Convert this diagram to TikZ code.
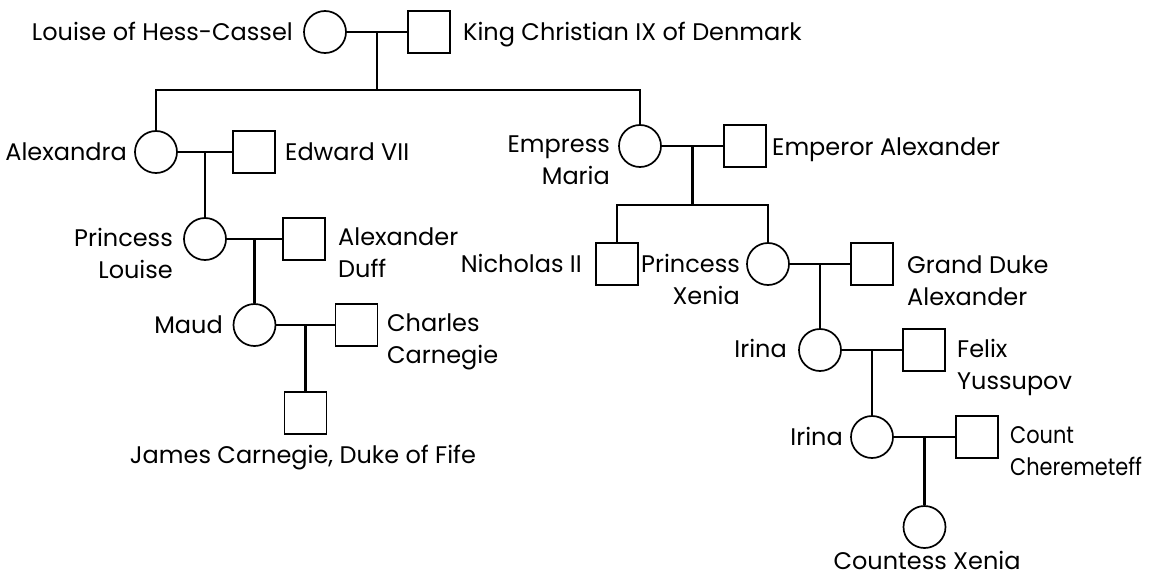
\documentclass[tikz,border=0pt]{standalone}
\usepackage{fontspec}
\setmainfont{Poppins}
\newfontfamily\narrowfont{Poppins}[FakeStretch=0.87]
\usetikzlibrary{calc}
\tikzset{
  fem/.style={circle, draw, minimum size=42pt, inner sep=0pt, line width=1.7pt},
  mal/.style={rectangle, draw, minimum size=42pt, inner sep=0pt, line width=1.7pt},
  lbl/.style={inner sep=0pt, font=\fontsize{24}{32}\selectfont},
  lblL/.style={lbl, anchor=base east, align=right},
  lblR/.style={lbl, anchor=base west, align=left},
  link/.style={line width=2.2pt},
}
\begin{document}
\begin{tikzpicture}[x=1pt, y=-1pt]
\useasboundingbox (0,0) rectangle (1151,578);
% generation 1
\node[fem] (louise) at (325,32) {};
\node[mal] (christian) at (429,32) {};
\coordinate (m1) at ($(louise.east)!0.5!(christian.west)$);
\coordinate (b1) at ($(m1)+(0,58)$);
% generation 2
\node[fem] (alexandra) at (156,152) {};
\node[mal] (edward) at (254,152) {};
\node[fem] (empress) at (640,146) {};
\node[mal] (emperor) at (745,146) {};
\coordinate (m2) at ($(alexandra.east)!0.5!(edward.west)$);
\coordinate (m3) at ($(empress.east)!0.5!(emperor.west)$);
% Alexandra line
\node[fem] (plouise) at ($(m2)+(0,87)$) {};
\node[mal] (duff) at ($(plouise)+(99,0)$) {};
\coordinate (m4) at ($(plouise.east)!0.5!(duff.west)$);
\node[fem] (maud) at ($(m4)+(0,86)$) {};
\node[mal] (charles) at ($(maud)+(102,0)$) {};
\coordinate (m5) at ($(maud.east)!0.5!(charles.west)$);
\node[mal] (james) at ($(m5)+(0,88)$) {};
% Maria line
\coordinate (b2) at ($(m3)+(0,59)$);
\node[mal] (nicholas) at (617,264) {};
\node[fem] (pxenia) at (768,264) {};
\node[mal] (grandduke) at (872,264) {};
\coordinate (m6) at ($(pxenia.east)!0.5!(grandduke.west)$);
\node[fem] (irina1) at ($(m6)+(0,86)$) {};
\node[mal] (felix) at ($(irina1)+(104,0)$) {};
\coordinate (m7) at ($(irina1.east)!0.5!(felix.west)$);
\node[fem] (irina2) at ($(m7)+(0,87)$) {};
\node[mal] (count) at ($(irina2)+(105,0)$) {};
\coordinate (m8) at ($(irina2.east)!0.5!(count.west)$);
\node[fem] (countess) at ($(m8)+(0,90)$) {};
% connectors
\draw[link] (louise.east) -- (christian.west);
\draw[link] (m1) -- (b1);
\draw[link] (alexandra.north) |- (b1) -| (empress.north);
\draw[link] (alexandra.east) -- (edward.west);
\draw[link] (m2) -- (plouise.north);
\draw[link] (plouise.east) -- (duff.west);
\draw[link] (m4) -- (maud.north);
\draw[link] (maud.east) -- (charles.west);
\draw[link] (m5) -- (james.north);
\draw[link] (empress.east) -- (emperor.west);
\draw[link] (m3) -- (b2);
\draw[link] (nicholas.north) |- (b2) -| (pxenia.north);
\draw[link] (pxenia.east) -- (grandduke.west);
\draw[link] (m6) -- (irina1.north);
\draw[link] (irina1.east) -- (felix.west);
\draw[link] (m7) -- (irina2.north);
\draw[link] (irina2.east) -- (count.west);
\draw[link] (m8) -- (countess.north);
% labels (multi-line: base anchor is the last line)
\node[lblL] (tlouise) at (293,40.5) {Louise of Hess-Cassel};
\node[lblR] (tchristian) at (463,40.5) {King Christian IX of Denmark};
\node[lblL] (talexandra) at (127,160.5) {Alexandra};
\node[lblR] (tedward) at (285,160.5) {Edward VII};
\node[lblL] (tempress) at (610,184) {Empress\\Maria};
\node[lblR] (temperor) at (772,155) {Emperor Alexander};
\node[lblL] (tplouise) at (173,278.5) {Princess\\Louise};
\node[lblR] (tduff) at (338,277.5) {Alexander\\Duff};
\node[lblL] (tmaud) at (223,333.5) {Maud};
\node[lblR] (tcharles) at (387,363.5) {Charles\\Carnegie};
\node[lbl, anchor=base] (tjames) at (303,463) {James Carnegie, Duke of Fife};
\node[lblL] (tnicholas) at (582,272.5) {Nicholas II};
\node[lblL] (tpxenia) at (740,304.5) {Princess\\Xenia};
\node[lblR] (tgrandduke) at (907,305.5) {Grand Duke\\Alexander};
\node[lblL] (tirina1) at (787,357.5) {Irina};
\node[lblR] (tfelix) at (957,389.5) {Felix\\Yussupov};
\node[lblL] (tirina2) at (843,445) {Irina};
\node[lblR] (tcount) at (1010,475.5) {\narrowfont Count\\\narrowfont Cheremeteff};
\node[lbl, anchor=base] (tcountess) at (927,569) {Countess Xenia};
\end{tikzpicture}
\end{document}
